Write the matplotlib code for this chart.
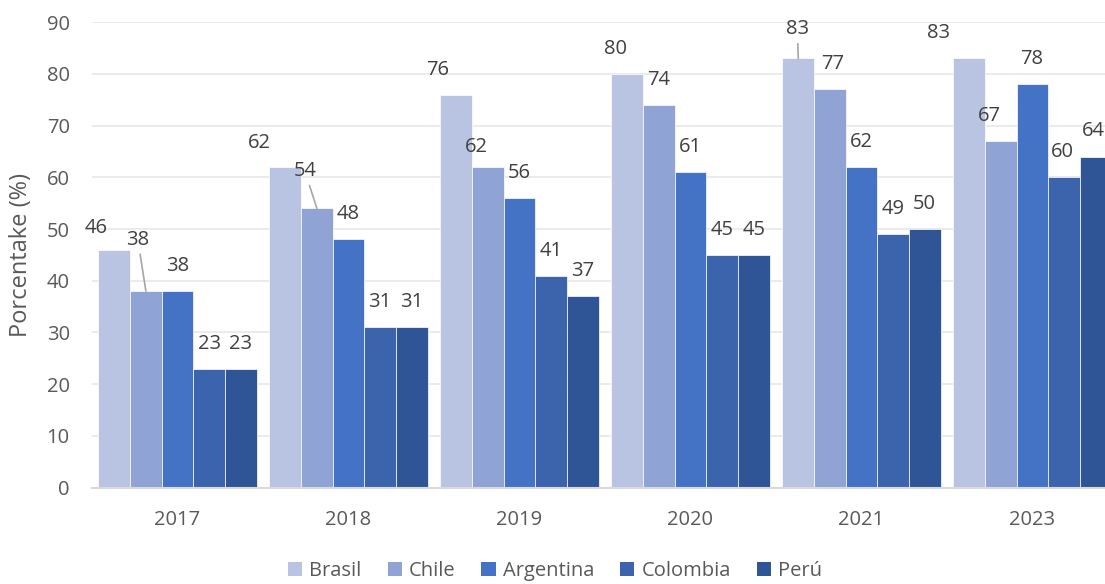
import numpy as np
import matplotlib
matplotlib.use("Agg")
import matplotlib.pyplot as plt
from matplotlib.patches import Patch

plt.rcParams['font.family'] = ['Open Sans', 'DejaVu Sans']

years = ['2017', '2018', '2019', '2020', '2021', '2023']
countries = ['Brasil', 'Chile', 'Argentina', 'Colombia', 'Perú']
brasil = [46, 62, 76, 80, 83, 83]
chile = [38, 54, 62, 74, 77, 67]
argentina = [38, 48, 56, 61, 62, 78]
colombia = [23, 31, 41, 45, 49, 60]
peru = [23, 31, 37, 45, 50, 64]
yticks = list(range(0, 100, 10))

series = [brasil, chile, argentina, colombia, peru]
colors = ['#B9C4E3', '#8FA3D4', '#4472C4', '#3B64AD', '#2F5597']

# label shifts in pixels (dx, dy above bar top) where the default spot collides
nudges = {
    (0, 0): (-18, 21.5), (1, 0): (-8, 51),
    (0, 1): (-26, 24.5), (1, 1): (-12, 37),
    (0, 2): (-19, 25), (1, 2): (-12, 20),
    (0, 3): (-12, 25),
    (0, 4): (-1, 29), (1, 4): (3, 25.5),
    (0, 5): (-31, 25), (1, 5): (-12, 25), (2, 5): (-1, 25),
    (3, 5): (-1.5, 25), (4, 5): (-2, 26),
}
leaders = {(1, 0), (1, 1), (0, 4)}

fs = 14.5
fig = plt.figure(figsize=(11.05, 5.84), dpi=100)
ax = fig.add_axes([92 / 1105, 96.5 / 584, 1026 / 1105, 465.2 / 584])

x = np.arange(len(years))
width = 0.1848
for i, (name, vals) in enumerate(zip(countries, series)):
    pos = x + (i - 2) * width
    ax.bar(pos, vals, width, color=colors[i], edgecolor='white', linewidth=0.5,
           label=name, zorder=2)
    for j, v in enumerate(vals):
        dx, dy = nudges.get((i, j), (0, 25))
        props = None
        if (i, j) in leaders:
            props = dict(arrowstyle='-', color='#A6A6A6', lw=1.2, shrinkA=1, shrinkB=0)
        ax.annotate(str(v), xy=(pos[j], v), xytext=(dx, dy), textcoords='offset pixels',
                    ha='center', va='center', fontsize=fs, color='#404040',
                    arrowprops=props, zorder=3)

ax.set_xlim(-0.5, len(years) - 0.5)
ax.set_ylim(0, 90)
ax.set_yticks(yticks)
ax.set_xticks(x)
ax.set_xticklabels(years)
ax.tick_params(axis='both', length=0, labelsize=fs, labelcolor='#595959')
ax.tick_params(axis='y', pad=16)
ax.tick_params(axis='x', pad=16)

ax.yaxis.grid(True, color='#E9E9E9', linewidth=1.3)
ax.set_axisbelow(True)
for side in ['top', 'right', 'left']:
    ax.spines[side].set_visible(False)
ax.spines['bottom'].set_color('#D9D9D9')
ax.spines['bottom'].set_linewidth(1.5)
ax.spines['bottom'].set_zorder(4)

ax.set_ylabel('Porcentake (%)', fontsize=17, color='#595959')
ax.yaxis.set_label_coords(-0.0575, 0.5)

handles = [Patch(facecolor=c, edgecolor='none') for c in colors]
fig.legend(handles, countries, loc='center', bbox_to_anchor=(555 / 1105, 1 - 571 / 584),
           ncol=5, frameon=False, fontsize=fs, labelcolor='#595959',
           handlelength=0.7, handleheight=0.7, handletextpad=0.35, columnspacing=1.3,
           borderpad=0)

fig.savefig('out.png', dpi=100)
